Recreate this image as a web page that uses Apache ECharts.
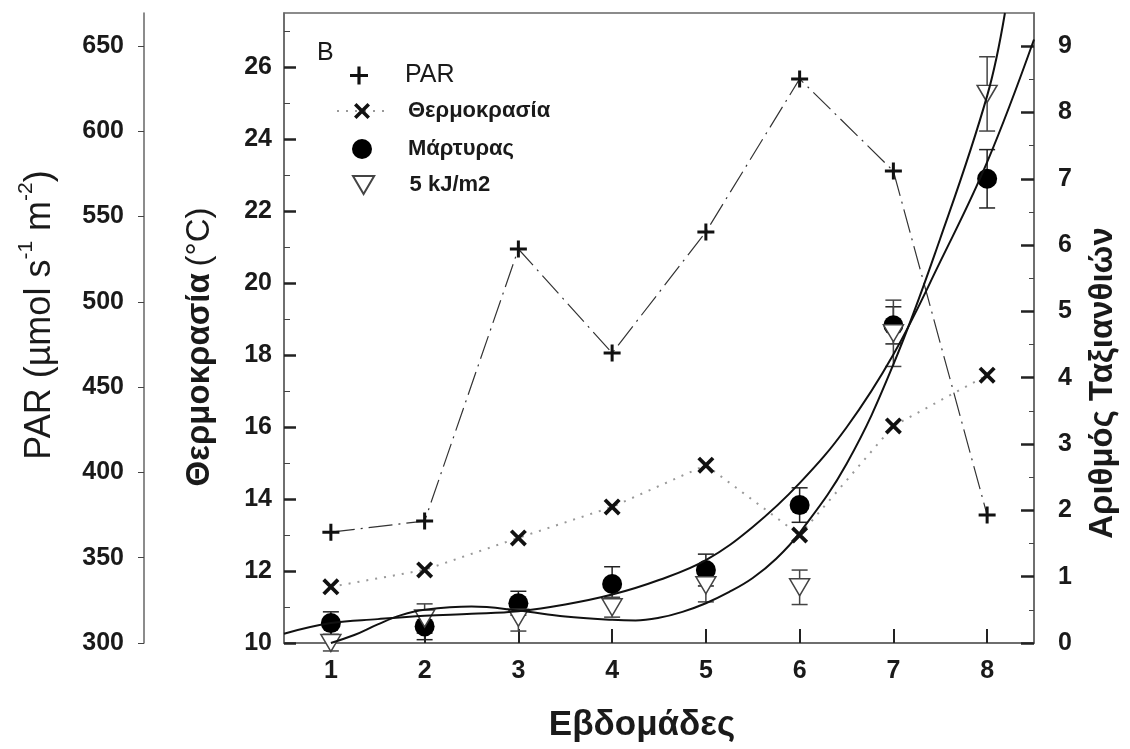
<!DOCTYPE html>
<html>
<head>
<meta charset="utf-8">
<script src="https://cdn.jsdelivr.net/npm/echarts@6/dist/echarts.min.js"></script>
<style>
  html, body { margin: 0; padding: 0; background: #fff; }
  #chart { width: 1130px; height: 749px; }
</style>
</head>
<body>
<div id="chart"></div>
<script>
// weeks and measured values
var weeks = [1, 2, 3, 4, 5, 6, 7, 8];
var par = [365, 371.5, 531, 470, 541, 630.7, 576.7, 375];
var temperature = [11.56, 12.03, 12.92, 13.78, 14.94, 13.0, 16.03, 17.44];
var control = [0.30, 0.25, 0.60, 0.89, 1.10, 2.08, 4.79, 7.00];
var controlErr = [0.17, 0.20, 0.18, 0.26, 0.24, 0.26, 0.28, 0.44];
var uv5 = [0.0, 0.37, 0.38, 0.54, 0.87, 0.84, 4.67, 8.28];
var uv5Err = [0.12, 0.22, 0.20, 0.15, 0.25, 0.26, 0.50, 0.56];

// fitted curves
var fitControlX = [0.5, 1, 1.5, 2, 2.5, 3, 3.5, 4, 4.5, 5, 5.5, 6, 6.5, 7, 7.5, 8, 8.5];
var fitControlY = [0.14, 0.30, 0.36, 0.41, 0.44, 0.48, 0.58, 0.73, 0.95, 1.25, 1.75, 2.41, 3.25, 4.35, 5.75, 7.25, 9.1];
var fitUv5X = [1, 1.25, 1.5, 1.75, 2, 2.5, 3, 3.5, 4, 4.25, 4.5, 4.75, 5, 5.25, 5.5, 5.75, 6, 6.5, 7, 7.5, 8, 8.19];
var fitUv5Y = [0.0, 0.12, 0.28, 0.42, 0.50, 0.55, 0.49, 0.40, 0.35, 0.34, 0.38, 0.47, 0.60, 0.77, 0.98, 1.27, 1.66, 2.7, 4.2, 6.1, 8.25, 9.5];

// tick values
var weekTicks = [1, 2, 3, 4, 5, 6, 7, 8];
var tempMinorTicks = [11, 13, 15, 17, 19, 21, 23, 25, 27];
var countMinorTicks = [0.5, 1.5, 2.5, 3.5, 4.5, 5.5, 6.5, 7.5, 8.5];

var FONT = 'Liberation Sans, Arial, sans-serif';
var plusIcon = 'path://M7,0h3v17h-3z M0,7h17v3h-17z';
var crossIcon = 'path://M0,2.5L2.5,0L16,13.5L13.5,16Z M13.5,0L16,2.5L2.5,16L0,13.5Z';
var triIcon = 'path://M0,0L20,0L10,17Z';

function pairs(xs, ys) {
    return xs.map(function (x, i) { return [x, ys[i]]; });
}
function bars(vals, errs) {
    return weeks.map(function (w, i) { return [w, vals[i] - errs[i], vals[i] + errs[i]]; });
}
function errorBar(color) {
    return function (params, api) {
        var x = api.value(0);
        var lo = api.coord([x, api.value(1)]);
        var hi = api.coord([x, api.value(2)]);
        var w = 8;
        var st = { stroke: color, lineWidth: 1.5 };
        return {
            type: 'group',
            children: [
                { type: 'line', shape: { x1: hi[0], y1: hi[1], x2: lo[0], y2: lo[1] }, style: st },
                { type: 'line', shape: { x1: hi[0] - w, y1: hi[1], x2: hi[0] + w, y2: hi[1] }, style: st },
                { type: 'line', shape: { x1: lo[0] - w, y1: lo[1], x2: lo[0] + w, y2: lo[1] }, style: st }
            ]
        };
    };
}

var tickLabel = { fontFamily: FONT, fontSize: 25, fontWeight: 'bold', color: '#1a1a1a' };
var legendText = { fontFamily: FONT, fontSize: 22, fontWeight: 'bold', color: '#1a1a1a' };

var chart = echarts.init(document.getElementById('chart'));
var option = {
    animation: false,
    backgroundColor: '#fff',
    title: {
        text: 'B', left: 312, top: 36,
        textStyle: { fontFamily: FONT, fontSize: 25, fontWeight: 'normal', color: '#1a1a1a' }
    },
    legend: [
        {
            data: [{ name: 'PAR', icon: plusIcon }], left: 345, top: 58, itemWidth: 50, itemHeight: 18,
            textStyle: { fontFamily: FONT, fontSize: 25, color: '#1a1a1a', padding: [0, 0, 0, 16] }
        },
        {
            data: ['Θερμοκρασία'], left: 331, top: 95, itemWidth: 50, itemHeight: 20,
            textStyle: Object.assign({ padding: [0, 0, 0, 16] }, legendText)
        },
        {
            data: ['Μάρτυρας'], left: 347, top: 133, itemWidth: 50, itemHeight: 20,
            textStyle: Object.assign({ padding: [0, 0, 0, 16] }, legendText)
        },
        {
            data: ['5 kJ/m2'], left: 347, top: 169, itemWidth: 50, itemHeight: 18,
            textStyle: Object.assign({ padding: [0, 0, 0, 16] }, legendText)
        }
    ],
    grid: { left: 284, right: 96, top: 13, bottom: 106, show: true, borderColor: '#666', borderWidth: 1.5 },
    xAxis: {
        type: 'value', min: 0.5, max: 8.5,
        name: 'Εβδομάδες', nameLocation: 'middle', nameGap: 65,
        nameTextStyle: { fontFamily: FONT, fontSize: 35, fontWeight: 'bold', color: '#1a1a1a', padding: [0, 34, 0, 0] },
        axisLine: { lineStyle: { color: '#666', width: 1.5 } },
        axisTick: { inside: true, length: 14, customValues: weekTicks, lineStyle: { color: '#222', width: 2 } },
        axisLabel: Object.assign({ margin: 16, customValues: weekTicks }, tickLabel),
        splitLine: { show: false }
    },
    yAxis: [
        {
            type: 'value', position: 'left', min: 10, max: 27.5, interval: 2,
            name: '{b|Θερμοκρασία}  {r|(°C)}', nameLocation: 'middle', nameGap: 68, nameRotate: 90,
            nameTextStyle: {
                padding: [0, 38, 0, 0],
                rich: {
                    b: { fontFamily: FONT, fontSize: 33, fontWeight: 'bold', color: '#1a1a1a' },
                    r: { fontFamily: FONT, fontSize: 33, color: '#1a1a1a' }
                }
            },
            axisLine: { show: true, lineStyle: { color: '#666', width: 1.5 } },
            axisTick: { inside: true, length: 12, lineStyle: { color: '#222', width: 2.5 } },
            axisLabel: Object.assign({ margin: 12, showMaxLabel: false }, tickLabel),
            splitLine: { show: false }
        },
        {
            type: 'value', position: 'left', offset: 140, min: 300, max: 669.35, interval: 50,
            name: '{r|PAR (µmol s}{s|-1}{r| m}{s|-2}{r|)}', nameLocation: 'middle', nameGap: 86, nameRotate: 90,
            nameTextStyle: {
                padding: [0, 0, 0, 26],
                rich: {
                    r: { fontFamily: FONT, fontSize: 36, color: '#1a1a1a', lineHeight: 42, verticalAlign: 'bottom' },
                    s: { fontFamily: FONT, fontSize: 21, color: '#1a1a1a', lineHeight: 42, verticalAlign: 'top' }
                }
            },
            axisLine: { show: true, lineStyle: { color: '#666', width: 1.5 } },
            axisTick: { inside: false, length: 6, lineStyle: { color: '#444', width: 1 } },
            axisLabel: Object.assign({ margin: 20, showMaxLabel: false }, tickLabel),
            splitLine: { show: false }
        },
        {
            type: 'value', position: 'right', min: 0, max: 9.5, interval: 1,
            name: 'Αριθμός Ταξιανθιών', nameLocation: 'middle', nameGap: 52, nameRotate: 90,
            nameTextStyle: { fontFamily: FONT, fontSize: 33, fontWeight: 'bold', color: '#1a1a1a', padding: [0, 110, 0, 0] },
            axisLine: { show: true, lineStyle: { color: '#666', width: 1.5 } },
            axisTick: { inside: true, length: 13, lineStyle: { color: '#222', width: 2.5 } },
            axisLabel: Object.assign({ margin: 24, showMaxLabel: false }, tickLabel),
            splitLine: { show: false }
        },
        {
            type: 'value', position: 'left', min: 10, max: 27.5,
            axisLine: { show: false },
            axisTick: { inside: true, length: 6, customValues: tempMinorTicks, lineStyle: { color: '#444', width: 1 } },
            axisLabel: { show: false },
            splitLine: { show: false }
        },
        {
            type: 'value', position: 'right', min: 0, max: 9.5,
            axisLine: { show: false },
            axisTick: { inside: true, length: 5, customValues: countMinorTicks, lineStyle: { color: '#444', width: 1 } },
            axisLabel: { show: false },
            splitLine: { show: false }
        }
    ],
    series: [
        {
            name: 'PAR', type: 'line', yAxisIndex: 1, data: pairs(weeks, par),
            symbol: plusIcon, symbolSize: 17, z: 5,
            itemStyle: { color: '#111' },
            lineStyle: { color: '#333', width: 1.2, type: [24, 6, 2, 6] }
        },
        {
            name: 'Θερμοκρασία', type: 'line', yAxisIndex: 0, data: pairs(weeks, temperature),
            symbol: crossIcon, symbolSize: 17, z: 5,
            itemStyle: { color: '#111' },
            lineStyle: { color: '#999', width: 2, type: [2, 7] }
        },
        {
            type: 'custom', yAxisIndex: 2, data: bars(control, controlErr),
            renderItem: errorBar('#222'), z: 2, silent: true
        },
        {
            type: 'custom', yAxisIndex: 2, data: bars(uv5, uv5Err),
            renderItem: errorBar('#444'), z: 2, silent: true
        },
        {
            name: 'Μάρτυρας', type: 'scatter', yAxisIndex: 2, data: pairs(weeks, control),
            symbol: 'circle', symbolSize: 20, z: 3,
            itemStyle: { color: '#000', opacity: 1 }
        },
        {
            name: '5 kJ/m2', type: 'scatter', yAxisIndex: 2, data: pairs(weeks, uv5),
            symbol: triIcon, symbolSize: [20, 17], z: 4,
            itemStyle: { color: '#fff', borderColor: '#444', borderWidth: 1.5, opacity: 1 }
        },
        {
            name: 'fit1', type: 'line', yAxisIndex: 2, data: pairs(fitControlX, fitControlY),
            symbol: 'none', smooth: 0.4, z: 6,
            lineStyle: { color: '#111', width: 2 }
        },
        {
            name: 'fit2', type: 'line', yAxisIndex: 2, data: pairs(fitUv5X, fitUv5Y),
            symbol: 'none', smooth: 0.4, z: 6,
            lineStyle: { color: '#111', width: 2 }
        }
    ]
};
chart.setOption(option);
</script>
</body>
</html>
